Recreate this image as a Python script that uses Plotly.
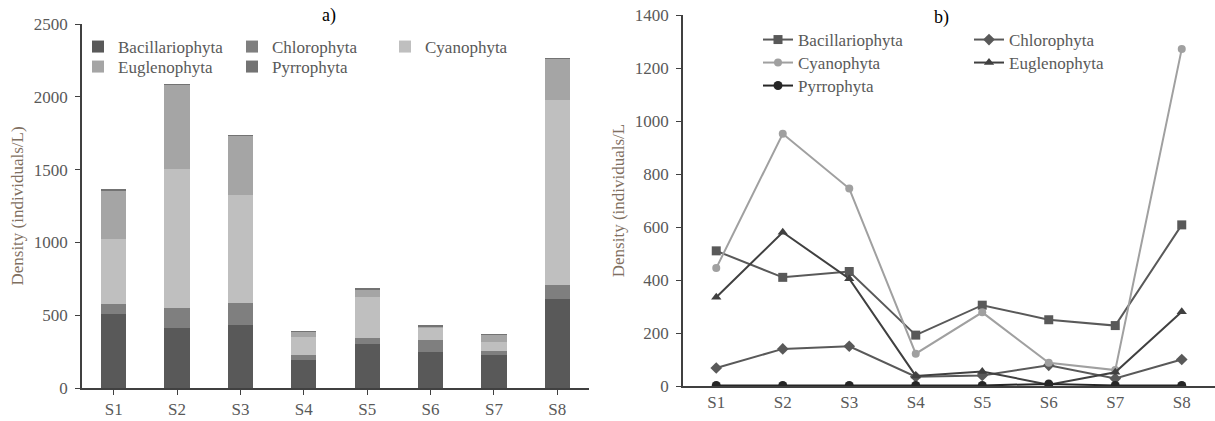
import plotly.graph_objects as go

sites = ["S1", "S2", "S3", "S4", "S5", "S6", "S7", "S8"]
groups = ["Bacillariophyta", "Chlorophyta", "Cyanophyta", "Euglenophyta", "Pyrrophyta"]

bacillariophyta = [510, 410, 432, 192, 305, 250, 228, 608]
chlorophyta = [68, 140, 150, 35, 40, 78, 28, 100]
cyanophyta = [445, 952, 745, 122, 278, 88, 60, 1272]
euglenophyta = [335, 580, 405, 38, 55, 5, 52, 280]
pyrrophyta = [2, 2, 2, 2, 2, 8, 2, 2]

series = [bacillariophyta, chlorophyta, cyanophyta, euglenophyta, pyrrophyta]

bar_colors = ["#595959", "#7f7f7f", "#bfbfbf", "#a5a5a5", "#737373"]
line_colors = ["#595959", "#595959", "#a0a0a0", "#404040", "#262626"]
line_symbols = ["square", "diamond", "circle", "triangle-up", "circle"]
marker_sizes = [9, 9, 8, 9, 9]

FONT = "Liberation Serif, Times New Roman, serif"
TICK_COLOR = "#595959"
TITLE_COLOR = "#7f6f5f"
AXIS_COLOR = "#404040"

W, H = 1215, 421


def fx(px):
    return px / W


def fy(py):
    return 1 - py / H


# legend entry positions (text start x px, row centre y px)
bar_legend_pos = [(118, 47), (272, 47), (425, 47), (118, 67), (272, 67)]
line_legend_pos = [(798, 40), (1009, 40), (798, 63), (1009, 63), (798, 86)]

fig = go.Figure()
legends = {}
k = 1
for name, vals, col, pos in zip(groups, series, bar_colors, bar_legend_pos):
    lid = "legend" if k == 1 else f"legend{k}"
    fig.add_trace(go.Bar(
        x=sites, y=vals, name=name, marker=dict(color=col, line=dict(width=0)),
        xaxis="x", yaxis="y", legend=lid, showlegend=True,
    ))
    legends[lid] = pos
    k += 1

for name, vals, col, sym, ms, pos in zip(groups, series, line_colors, line_symbols, marker_sizes, line_legend_pos):
    lid = f"legend{k}"
    fig.add_trace(go.Scatter(
        x=sites, y=vals, name=name, mode="lines+markers",
        line=dict(color=col, width=2),
        marker=dict(symbol=sym, size=ms, color=col),
        xaxis="x2", yaxis="y2", legend=lid, showlegend=True,
    ))
    legends[lid] = pos
    k += 1

axis_common = dict(
    showline=True, linecolor=AXIS_COLOR, linewidth=1.5,
    ticks="outside", tickcolor=AXIS_COLOR, ticklen=5,
    showgrid=False, zeroline=False, ticklabeloverflow="allow",
    tickfont=dict(family=FONT, size=17, color=TICK_COLOR),
)

layout_legends = {}
for lid, (tx, ty) in legends.items():
    layout_legends[lid] = dict(
        orientation="v", x=fx(tx - 40), y=fy(ty), xanchor="left", yanchor="middle",
        itemwidth=30, font=dict(family=FONT, size=17, color=TICK_COLOR),
        bgcolor="rgba(0,0,0,0)", borderwidth=0,
    )

fig.update_layout(
    width=W, height=H,
    margin=dict(l=0, r=0, t=0, b=0, autoexpand=False),
    paper_bgcolor="white", plot_bgcolor="white",
    showlegend=True,
    barmode="stack", bargap=0.6,
    font=dict(family=FONT, size=17, color=TICK_COLOR),
    xaxis=dict(domain=[fx(82), fx(589)], anchor="y", range=[-0.5, 7.5], **axis_common),
    yaxis=dict(domain=[fy(388), fy(24)], anchor="x", range=[0, 2500],
               tickvals=[0, 500, 1000, 1500, 2000, 2500], ticklabelstandoff=4,
               title=dict(text="Density (individuals/L)", font=dict(family=FONT, size=17, color=TITLE_COLOR), standoff=6),
               **axis_common),
    xaxis2=dict(domain=[fx(683), 1.0], anchor="y2", range=[-0.5, 7.5],
                **{**axis_common, "ticks": ""}),
    yaxis2=dict(domain=[fy(386), fy(15)], anchor="x2", range=[0, 1400],
                tickvals=[0, 200, 400, 600, 800, 1000, 1200, 1400], ticklabelstandoff=4,
                title=dict(text="Density (individuals/L", font=dict(family=FONT, size=17, color=TITLE_COLOR), standoff=6),
                **axis_common),
    annotations=[
        dict(text="a)", x=fx(329), y=fy(15), xref="paper", yref="paper", showarrow=False,
             xanchor="center", yanchor="middle", font=dict(family=FONT, size=18, color="#000000")),
        dict(text="b)", x=fx(941), y=fy(17), xref="paper", yref="paper", showarrow=False,
             xanchor="center", yanchor="middle", font=dict(family=FONT, size=18, color="#000000")),
    ],
    **layout_legends,
)

# remove the browser's default 8px page margin so the figure fills the window exactly
fig.write_html("out.html", config={"displayModeBar": False},
               post_script="document.body.style.margin='0';")
